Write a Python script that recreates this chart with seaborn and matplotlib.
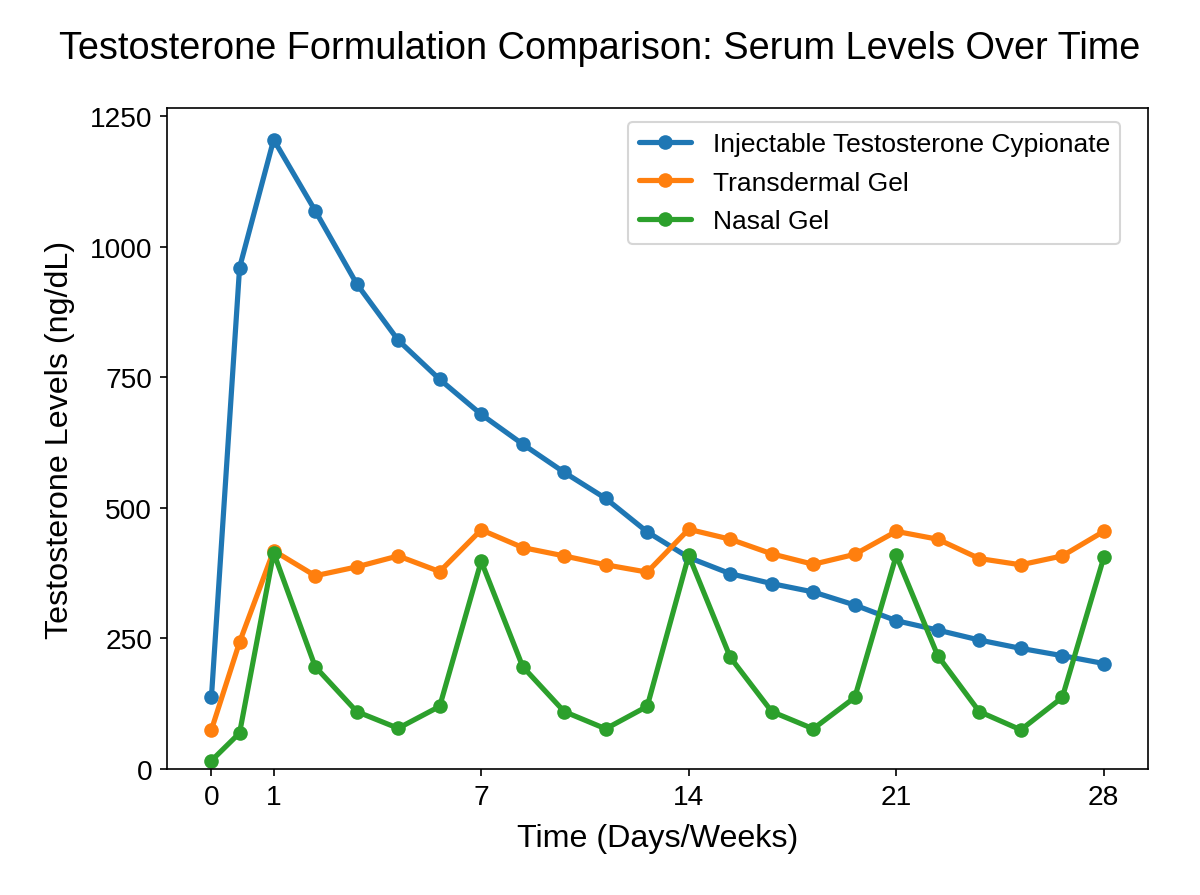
import matplotlib
matplotlib.use("Agg")
import matplotlib.pyplot as plt
import seaborn as sns
import pandas as pd

# x positions of the sample points (axis units) and tick labels
time_pos = [-2.1, -1.15, 0.0, 1.4, 2.8, 4.2, 5.6, 7.0, 8.4, 9.8, 11.2, 12.6,
            14.0, 15.4, 16.8, 18.2, 19.6, 21.0, 22.4, 23.8, 25.2, 26.6, 28.0]
tick_pos = [-2.1, 0.0, 7.0, 14.0, 21.0, 28.0]
tick_labels = ["0", "1", "7", "14", "21", "28"]

injectable = [137, 960, 1205, 1069, 929, 821, 746, 679, 622, 568, 518, 454,
              405, 374, 355, 339, 314, 284, 266, 247, 231, 217, 202]
transdermal = [75, 243, 418, 370, 387, 408, 378, 458, 424, 408, 391, 377,
               459, 440, 412, 392, 411, 455, 440, 403, 391, 408, 455]
nasal = [16, 69, 414, 196, 110, 78, 120, 398, 196, 110, 77, 120,
         409, 214, 110, 77, 137, 409, 217, 110, 75, 137, 405]

series_names = ["Injectable Testosterone Cypionate", "Transdermal Gel", "Nasal Gel"]
colors = ["#1f77b4", "#ff7f0e", "#2ca02c"]

frames = []
for name, vals in zip(series_names, [injectable, transdermal, nasal]):
    frames.append(pd.DataFrame({"time": time_pos, "level": vals, "series": name}))
df = pd.concat(frames, ignore_index=True)

sns.set_style("ticks", {"axes.edgecolor": "black", "xtick.color": "black",
                        "ytick.color": "black", "text.color": "black",
                        "axes.labelcolor": "black"})
plt.rcParams["font.family"] = ["Liberation Sans", "DejaVu Sans"]

fig = plt.figure(figsize=(8, 5.9733), dpi=150)
ax = fig.add_axes([0.139, 0.1406, 0.818, 0.7374])

sns.lineplot(data=df, x="time", y="level", hue="series", hue_order=series_names,
             palette=colors, marker="o", markersize=7, markeredgewidth=0,
             linewidth=2.5, sort=False, ax=ax)

ax.set_xticks(tick_pos)
ax.set_xticklabels(tick_labels)
ax.set_yticks([0, 250, 500, 750, 1000, 1250])
ax.set_ylim(0, 1265)
ax.tick_params(labelsize=13.5)
ax.set_xlabel("Time (Days/Weeks)", fontsize=15.5, labelpad=6.5)
ax.set_ylabel("Testosterone Levels (ng/dL)", fontsize=15.5, labelpad=7)
fig.suptitle("Testosterone Formulation Comparison: Serum Levels Over Time",
             fontsize=18.2, y=0.965)
leg = ax.legend(loc="upper right", bbox_to_anchor=(0.985, 1.0), fontsize=12.7,
                labelspacing=0.55)
leg.set_title(None)

fig.savefig("out.png", dpi=150)
